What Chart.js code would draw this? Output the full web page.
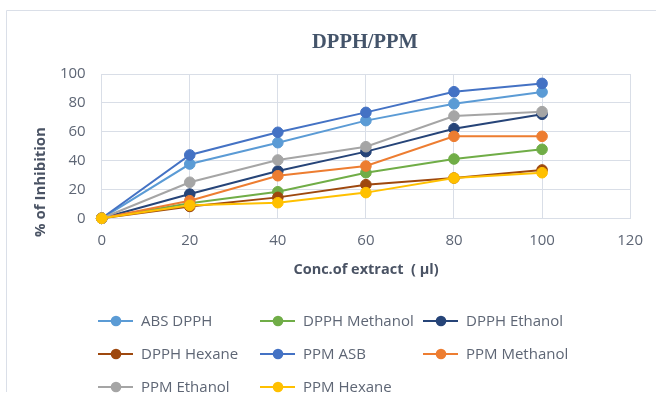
<!DOCTYPE html>
<html>
<head>
<meta charset="utf-8">
<script src="https://cdn.jsdelivr.net/npm/chart.js@4/dist/chart.umd.min.js"></script>
<style>
  html, body { margin: 0; padding: 0; background: #ffffff; }
  canvas { display: block; }
</style>
</head>
<body>
<canvas id="c" width="656" height="403"></canvas>
<script>
// Concentration of extract (µl)
const concentrations = [0, 20, 40, 60, 80, 100];
const xTicks = [0, 20, 40, 60, 80, 100, 120];
const yTicks = [0, 20, 40, 60, 80, 100];

// % of inhibition for each extract
const absDpph      = [0, 37.6, 52.4, 67.7, 79.4, 87.5];
const dpphMethanol = [0, 10.4, 18.4, 31.6, 41.1, 47.8];
const dpphEthanol  = [0, 16.8, 32.8, 46.2, 62.1, 72.1];
const dpphHexane   = [0, 8.2, 14.5, 23.3, 27.9, 33.5];
const ppmAsb       = [0, 43.9, 59.6, 73.4, 87.7, 93.5];
const ppmMethanol  = [0, 12.2, 29.5, 36.2, 56.8, 56.8];
const ppmEthanol   = [0, 25.0, 40.4, 49.6, 70.9, 73.9];
const ppmHexane    = [0, 9.0, 10.8, 17.8, 27.9, 31.6];

const seriesNames = ['ABS DPPH', 'DPPH Methanol', 'DPPH Ethanol', 'DPPH Hexane',
                     'PPM ASB', 'PPM Methanol', 'PPM Ethanol', 'PPM Hexane'];
const seriesValues = [absDpph, dpphMethanol, dpphEthanol, dpphHexane,
                      ppmAsb, ppmMethanol, ppmEthanol, ppmHexane];
const seriesColors = ['#5B9BD5', '#70AD47', '#264478', '#9E480E',
                      '#4472C4', '#ED7D31', '#A5A5A5', '#FFC000'];

const TICK_COLOR = '#5E6675';
const TITLE_COLOR = '#44546A';
const GRID_COLOR = '#D9DEE7';

const datasets = seriesNames.map((name, i) => ({
  label: name,
  data: concentrations.map((x, j) => ({ x: x, y: seriesValues[i][j] })),
  borderColor: seriesColors[i],
  backgroundColor: seriesColors[i],
  pointBackgroundColor: seriesColors[i],
  pointBorderColor: seriesColors[i],
  borderWidth: 2,
  pointRadius: 5.3,
  pointBorderWidth: 1,
  tension: 0,
  clip: false,
  // later series are painted over earlier ones
  order: seriesNames.length - 1 - i
}));

// Frame, chart title, axis titles and the grid legend
const decorations = {
  id: 'decorations',
  beforeDraw(chart) {
    const ctx = chart.ctx;
    ctx.save();
    ctx.fillStyle = '#ffffff';
    ctx.fillRect(0, 0, chart.width, chart.height);
    ctx.strokeStyle = '#DADFE8';
    ctx.lineWidth = 1;
    ctx.beginPath();
    ctx.moveTo(6.5, 392);
    ctx.lineTo(6.5, 10.5);
    ctx.lineTo(chart.width, 10.5);
    ctx.stroke();
    ctx.restore();
  },
  afterDraw(chart) {
    const ctx = chart.ctx;
    ctx.save();
    // title
    ctx.fillStyle = TITLE_COLOR;
    ctx.font = 'bold 20.5px "Liberation Serif"';
    ctx.textAlign = 'center';
    ctx.textBaseline = 'middle';
    ctx.fillText('DPPH/PPM', 365, 43);

    // axis titles
    ctx.fillStyle = '#4A5364';
    ctx.font = 'bold 14.5px "Open Sans"';
    ctx.fillText('Conc.of extract  ( \u00b5l)', 366, 270);
    ctx.save();
    ctx.translate(41, 182);
    ctx.rotate(-Math.PI / 2);
    ctx.font = 'bold 15px "Open Sans"';
    ctx.fillText('% of Inhibition', 0, 0);
    ctx.restore();

    // legend in a three-column grid
    const colX = [98, 260, 423];
    const rowY = [321, 354, 387];
    ctx.font = '15px "Open Sans"';
    ctx.textAlign = 'left';
    ctx.textBaseline = 'middle';
    chart.data.datasets.forEach((ds, i) => {
      const x0 = colX[i % 3];
      const y0 = rowY[Math.floor(i / 3)];
      ctx.strokeStyle = ds.borderColor;
      ctx.lineWidth = 2;
      ctx.beginPath();
      ctx.moveTo(x0, y0);
      ctx.lineTo(x0 + 35, y0);
      ctx.stroke();
      ctx.fillStyle = ds.borderColor;
      ctx.beginPath();
      ctx.arc(x0 + 18, y0, 5.3, 0, Math.PI * 2);
      ctx.fill();
      ctx.fillStyle = TICK_COLOR;
      ctx.fillText(ds.label, x0 + 43, y0 + 1);
    });
    ctx.restore();
  }
};

function build() {
  new Chart(document.getElementById('c'), {
    type: 'line',
    data: { datasets: datasets },
    options: {
      responsive: false,
      animation: false,
      events: [],
      layout: { padding: { top: 74, right: 24, left: 0, bottom: 0 } },
      plugins: {
        legend: { display: false },
        title: { display: false },
        tooltip: { enabled: false }
      },
      scales: {
        x: {
          type: 'linear',
          min: xTicks[0],
          max: xTicks[xTicks.length - 1],
          afterBuildTicks(scale) { scale.ticks = xTicks.map(v => ({ value: v })); },
          afterFit(scale) { scale.height = 184.7; },
          grid: { color: GRID_COLOR, drawTicks: false, lineWidth: 1 },
          border: { color: GRID_COLOR },
          ticks: {
            color: TICK_COLOR,
            font: { family: 'Open Sans', size: 15 },
            padding: 13,
            maxRotation: 0
          }
        },
        y: {
          min: yTicks[0],
          max: yTicks[yTicks.length - 1],
          afterBuildTicks(scale) { scale.ticks = yTicks.map(v => ({ value: v })); },
          afterFit(scale) { scale.width = 101.7; },
          grid: { color: GRID_COLOR, drawTicks: false, lineWidth: 1 },
          border: { color: GRID_COLOR },
          ticks: {
            color: TICK_COLOR,
            font: { family: 'Open Sans', size: 15 },
            padding: 16
          }
        }
      }
    },
    plugins: [decorations]
  });
}

Promise.all([
  document.fonts.load('15px "Open Sans"'),
  document.fonts.load('bold 15px "Open Sans"'),
  document.fonts.load('bold 20px "Liberation Serif"')
]).then(build, build);
</script>
</body>
</html>
